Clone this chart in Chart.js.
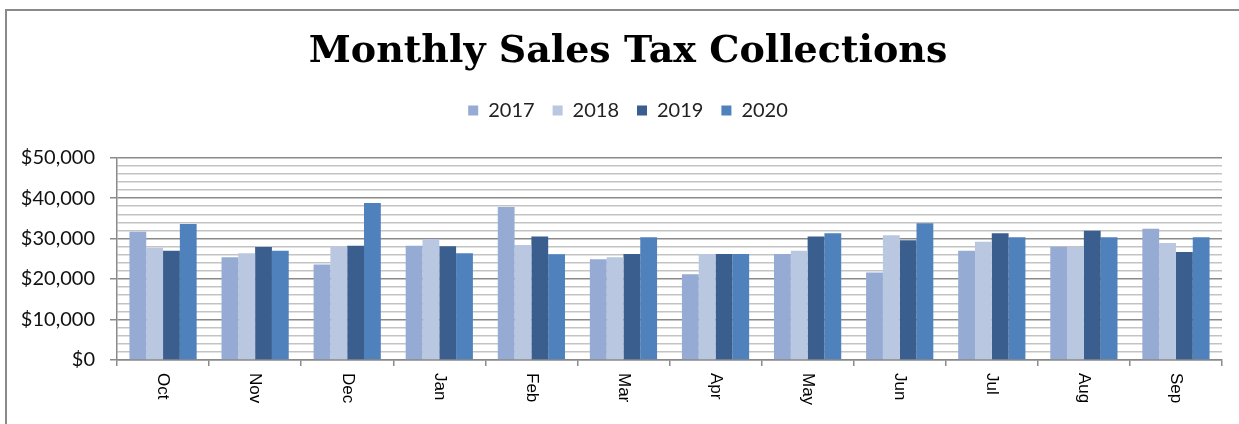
<!DOCTYPE html>
<html>
<head>
<meta charset="utf-8">
<script src="https://cdn.jsdelivr.net/npm/chart.js@4"></script>
<style>
    html, body { margin: 0; padding: 0; background: #fff; }
    #wrap { position: relative; width: 1239px; height: 424px; }
    #frame {
        position: absolute; left: 5px; top: 9px; right: -10px; bottom: -10px;
        border-top: 2px solid #8a8a8a; border-left: 2px solid #8a8a8a;
        pointer-events: none;
    }
</style>
</head>
<body>
<div id="wrap">
    <canvas id="salesChart"></canvas>
    <div id="frame"></div>
</div>
<script>
// data
const months = ['Oct', 'Nov', 'Dec', 'Jan', 'Feb', 'Mar', 'Apr', 'May', 'Jun', 'Jul', 'Aug', 'Sep'];
const years = ['2017', '2018', '2019', '2020'];
const sales2017 = [31700, 25400, 23600, 28200, 37800, 24900, 21200, 26200, 21600, 27000, 28000, 32400];
const sales2018 = [27700, 26400, 28000, 29900, 28400, 25400, 26200, 27000, 30800, 29200, 27900, 28900];
const sales2019 = [27000, 27900, 28200, 28100, 30500, 26200, 26200, 30500, 29600, 31300, 31900, 26700];
const sales2020 = [33600, 27000, 38800, 26400, 26100, 30300, 26200, 31300, 33800, 30300, 30300, 30300];
const yMax = 50000;
const yStep = 2000;
const yLabelStep = 10000;

const seriesColors = ['#95abd3', '#b9c7e1', '#3a5f8f', '#4f81bd'];

// extra space under the legend, before the plot
const legendSpacer = {
    id: 'legendSpacer',
    afterInit(chart) {
        const legend = chart.legend;
        const fit = legend.fit.bind(legend);
        legend.fit = function () {
            fit();
            this.height += 27;
        };
    }
};

// month names written top-to-bottom under each group
const verticalMonths = {
    id: 'verticalMonths',
    afterDraw(chart) {
        const ctx = chart.ctx;
        const x = chart.scales.x;
        ctx.save();
        ctx.font = '17px "Liberation Sans", Arial, sans-serif';
        ctx.fillStyle = '#000';
        ctx.textAlign = 'left';
        ctx.textBaseline = 'middle';
        months.forEach((m, i) => {
            ctx.save();
            ctx.translate(x.getPixelForValue(i), x.top + 13);
            ctx.rotate(Math.PI / 2);
            ctx.fillText(m, 0, 0);
            ctx.restore();
        });
        ctx.restore();
    }
};

const datasets = [sales2017, sales2018, sales2019, sales2020].map((values, i) => ({
    label: years[i],
    data: values,
    backgroundColor: seriesColors[i],
    borderWidth: 0,
    categoryPercentage: 0.73,
    barPercentage: 1.0
}));

new Chart(document.getElementById('salesChart'), {
    type: 'bar',
    data: { labels: months, datasets },
    options: {
        responsive: true,
        maintainAspectRatio: false,
        animation: false,
        layout: { padding: { top: 0, left: 17, right: 0, bottom: 0 } },
        plugins: {
            title: {
                display: true,
                text: 'Monthly Sales Tax Collections',
                color: '#000',
                font: { family: '"DejaVu Serif", serif', size: 38, weight: 'bold' },
                padding: { top: 29, bottom: 8 }
            },
            legend: {
                display: true,
                position: 'top',
                labels: {
                    color: '#222',
                    font: { family: 'Lato, sans-serif', size: 20 },
                    boxWidth: 10,
                    boxHeight: 10,
                    padding: 18
                }
            },
            tooltip: { enabled: false }
        },
        scales: {
            x: {
                grid: {
                    drawOnChartArea: false,
                    drawTicks: true,
                    tickLength: 6,
                    tickColor: '#8a8a8a',
                    lineWidth: 1.5
                },
                border: { color: '#8a8a8a', width: 1.5 },
                ticks: { display: false },
                afterFit(scale) { scale.height = 64; }
            },
            y: {
                min: 0,
                max: yMax,
                grid: {
                    color: ctx => ctx.tick && ctx.tick.value % yLabelStep === 0 ? '#8a8a8a' : '#c3c3c3',
                    tickColor: ctx => ctx.tick && ctx.tick.value % yLabelStep === 0 ? '#8a8a8a' : 'rgba(0,0,0,0)',
                    lineWidth: 1.5,
                    tickLength: 7
                },
                border: { color: '#8a8a8a', width: 1.5 },
                ticks: {
                    stepSize: yStep,
                    autoSkip: false,
                    padding: 15,
                    color: '#111',
                    font: { family: 'Lato, sans-serif', size: 20 },
                    callback: v => v % yLabelStep === 0 ? '$' + v.toLocaleString('en-US') : ''
                },
                afterFit(scale) { scale.width = 100; }
            },
            // empty strip on the right so the plot stops short of the edge
            spacer: {
                type: 'linear',
                position: 'right',
                display: true,
                grid: { display: false },
                border: { display: false },
                ticks: { display: false },
                afterFit(scale) { scale.width = 17; }
            }
        }
    },
    plugins: [legendSpacer, verticalMonths]
});
</script>
</body>
</html>
